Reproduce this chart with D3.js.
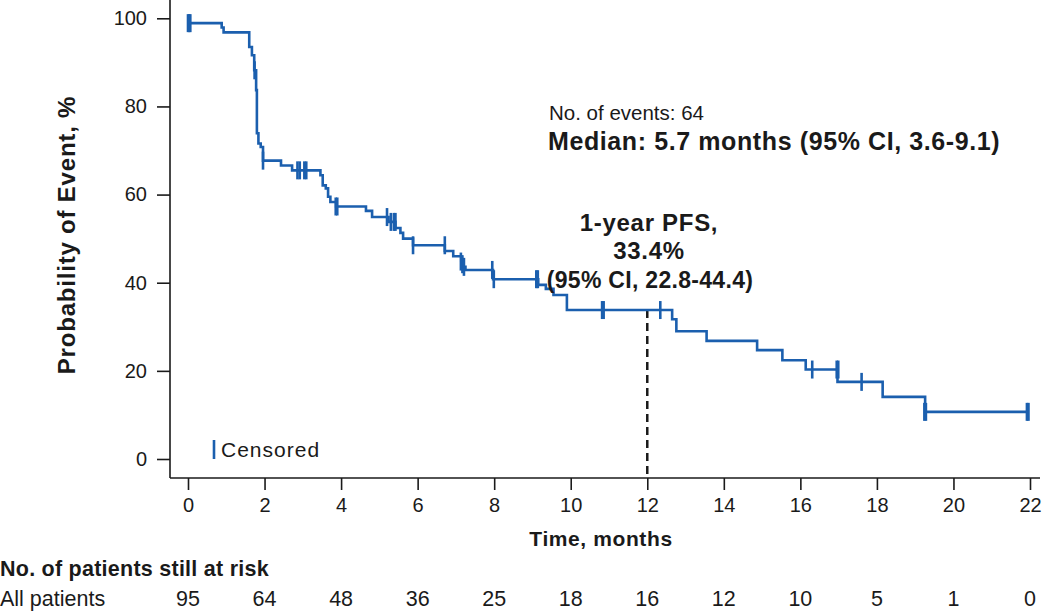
<!DOCTYPE html>
<html>
<head>
<meta charset="utf-8">
<script src="https://cdn.jsdelivr.net/npm/d3@7"></script>
<style>
  html, body { margin: 0; padding: 0; background: #fff; }
  svg { display: block; font-family: "Liberation Sans", Arial, sans-serif; }
</style>
</head>
<body>
<svg id="chart" width="1050" height="611"></svg>
<script>
// ---- Data ----
const stepTimes = [0, 0.88, 0.93, 1.60, 1.67, 1.73, 1.78, 1.80, 1.84, 1.90, 1.96, 2.43, 2.72,
  3.46, 3.52, 3.60, 3.66, 3.72, 3.87, 4.65, 4.81, 5.24, 5.42, 5.55, 5.62, 5.88,
  6.71, 6.93, 7.14, 7.20, 7.25, 7.97, 9.15, 9.35, 9.55, 9.90,
  12.65, 12.76, 13.55, 14.87, 15.53, 16.14, 16.97, 18.15, 19.26, 21.95];
const stepSurv = [98.9, 97.9, 96.8, 93.5, 91.6, 88.2, 83.7, 73.9, 71.6, 70.8, 67.7, 66.6, 65.5,
  64.4, 62.1, 61.4, 59.5, 58.3, 57.3, 56.3, 54.9, 53.8, 52.4, 51.3, 50.0, 48.5,
  47.2, 46.0, 44.8, 43.6, 42.9, 40.8, 39.5, 38.6, 37.2, 33.8,
  31.7, 29.0, 26.8, 24.7, 22.4, 20.3, 17.5, 14.1, 10.7, 10.7];
const censorTimes = [0.0, 0.03, 0.06, 1.74, 1.96, 2.86, 2.92, 3.04, 3.09, 3.86, 3.90,
  5.20, 5.30, 5.38, 5.42, 5.88, 6.71, 7.13, 7.17, 7.21, 7.95, 7.99, 9.10, 9.14,
  10.82, 10.86, 12.34, 16.31, 16.95, 16.99, 17.60, 19.24, 19.28, 21.92, 21.96];
const censorSurv = [98.9, 98.9, 98.9, 88.2, 67.7, 65.5, 65.5, 65.5, 65.5, 57.3, 57.3,
  54.9, 53.8, 53.8, 53.8, 48.5, 48.5, 44.8, 44.2, 43.6, 42.9, 40.8, 40.8, 40.8,
  33.8, 33.8, 33.8, 20.3, 20.3, 20.3, 17.5, 10.7, 10.7, 10.7, 10.7];
const xTicks = [0, 2, 4, 6, 8, 10, 12, 14, 16, 18, 20, 22];
const yTicks = [0, 20, 40, 60, 80, 100];
const atRiskTimes = [0, 2, 4, 6, 8, 10, 12, 14, 16, 18, 20, 22];
const atRisk = [95, 64, 48, 36, 25, 18, 16, 12, 10, 5, 1, 0];
const landmarkTime = 12;
const landmarkSurv = 33.8;

// ---- Layout ----
const blue = "#1b5fae";
const ink = "#1a1a1a";
const svg = d3.select("#chart");
const x = d3.scaleLinear().domain([0, 22]).range([188, 1030]);
const y = d3.scaleLinear().domain([0, 100]).range([459, 18.3]);
const axisX = 170, axisY = 478;

// axes lines
svg.append("line").attr("x1", axisX).attr("x2", axisX).attr("y1", 0).attr("y2", axisY)
  .attr("stroke", ink).attr("stroke-width", 1.6);
svg.append("line").attr("x1", axisX).attr("x2", 1040).attr("y1", axisY).attr("y2", axisY)
  .attr("stroke", ink).attr("stroke-width", 1.6);

// y ticks via d3 axis
const yAxis = d3.axisLeft(y).tickValues(yTicks).tickSize(13).tickPadding(10);
const gy = svg.append("g").attr("transform", `translate(${axisX},0)`).call(yAxis);
gy.select(".domain").remove();
gy.selectAll("line").attr("stroke", ink).attr("stroke-width", 1.6);
gy.selectAll("text").attr("font-size", 20).attr("fill", ink)
  .attr("font-family", "Liberation Sans, Arial, sans-serif");

// x ticks
const xAxis = d3.axisBottom(x).tickValues(xTicks).tickSize(12).tickPadding(8);
const gx = svg.append("g").attr("transform", `translate(0,${axisY})`).call(xAxis);
gx.select(".domain").remove();
gx.selectAll("line").attr("stroke", ink).attr("stroke-width", 1.6);
gx.selectAll("text").attr("font-size", 20).attr("fill", ink)
  .attr("font-family", "Liberation Sans, Arial, sans-serif");

// axis titles
svg.append("text").attr("transform", `translate(75,235) rotate(-90)`)
  .attr("text-anchor", "middle").attr("font-size", 24).attr("font-weight", "bold")
  .attr("letter-spacing", 0.8).attr("fill", ink).text("Probability of Event, %");
svg.append("text").attr("x", 601).attr("y", 546).attr("text-anchor", "middle")
  .attr("font-size", 21).attr("letter-spacing", 0.6).attr("font-weight", "bold")
  .attr("fill", ink).text("Time, months");

// dashed landmark line
svg.append("line").attr("x1", x(landmarkTime)).attr("x2", x(landmarkTime))
  .attr("y1", y(landmarkSurv)).attr("y2", axisY)
  .attr("stroke", ink).attr("stroke-width", 2.5).attr("stroke-dasharray", "8,5");

// KM step curve
const pts = stepTimes.map((t, i) => [t, stepSurv[i]]);
const line = d3.line().x(d => x(d[0])).y(d => y(d[1])).curve(d3.curveStepAfter);
svg.append("path").datum(pts).attr("d", line).attr("fill", "none")
  .attr("stroke", blue).attr("stroke-width", 2.6);

// censor marks
svg.append("g").selectAll("line").data(censorTimes.map((t, i) => [t, censorSurv[i]]))
  .join("line")
  .attr("x1", d => x(d[0])).attr("x2", d => x(d[0]))
  .attr("y1", d => y(d[1]) - 9).attr("y2", d => y(d[1]) + 9)
  .attr("stroke", blue).attr("stroke-width", 2.6);

// legend
svg.append("line").attr("x1", 214).attr("x2", 214).attr("y1", 440).attr("y2", 459)
  .attr("stroke", blue).attr("stroke-width", 2.6);
svg.append("text").attr("x", 221).attr("y", 457).attr("font-size", 21)
  .attr("letter-spacing", 1).attr("fill", ink).text("Censored");

// annotations
svg.append("text").attr("x", 549).attr("y", 120).attr("font-size", 20.5).attr("fill", ink)
  .text("No. of events: 64");
svg.append("text").attr("x", 548).attr("y", 150).attr("font-size", 25).attr("font-weight", "bold")
  .attr("letter-spacing", 0.6).attr("fill", ink).text("Median: 5.7 months (95% CI, 3.6-9.1)");
const ann = svg.append("g").attr("font-weight", "bold").attr("fill", ink)
  .attr("text-anchor", "middle");
ann.append("text").attr("x", 649).attr("y", 231).attr("font-size", 24)
  .attr("letter-spacing", 0.7).text("1-year PFS,");
ann.append("text").attr("x", 649).attr("y", 259).attr("font-size", 24)
  .attr("letter-spacing", 0.7).text("33.4%");
ann.append("text").attr("x", 650).attr("y", 288).attr("font-size", 23)
  .attr("letter-spacing", 0.3).text("(95% CI, 22.8-44.4)");

// at-risk table
svg.append("text").attr("x", 0).attr("y", 576).attr("font-size", 21.5).attr("font-weight", "bold")
  .attr("letter-spacing", 0.25).attr("fill", ink).text("No. of patients still at risk");
svg.append("text").attr("x", 0).attr("y", 606).attr("font-size", 21.5).attr("fill", ink)
  .text("All patients");
svg.append("g").selectAll("text").data(atRisk).join("text")
  .attr("x", (d, i) => x(atRiskTimes[i])).attr("y", 606)
  .attr("text-anchor", "middle").attr("font-size", 21.5).attr("fill", ink)
  .text(d => d);
</script>
</body>
</html>
